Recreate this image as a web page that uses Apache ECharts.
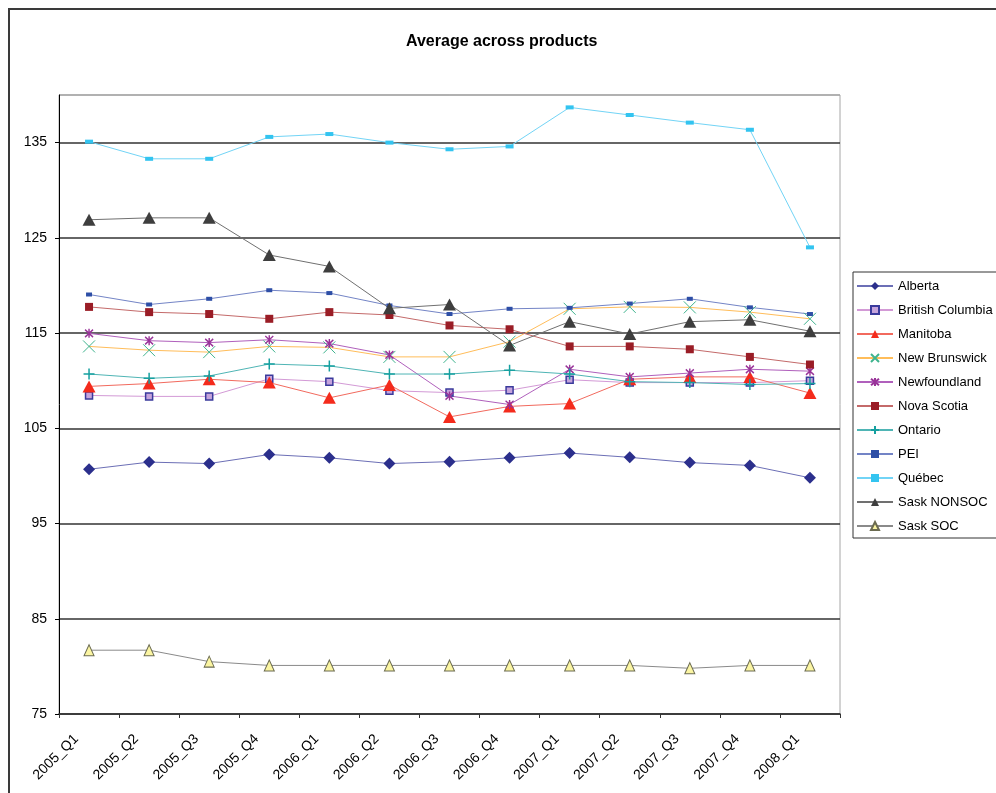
<!DOCTYPE html>
<html>
<head>
<meta charset="utf-8">
<title>Average across products</title>
<script src="https://cdn.jsdelivr.net/npm/echarts@6/dist/echarts.min.js"></script>
<style>
  html, body { margin: 0; padding: 0; background: #fff; }
  #chart { width: 996px; height: 793px; }
</style>
</head>
<body>
<div id="chart"></div>
<script>
// Quarterly averages by province
const quarters = ['2005_Q1', '2005_Q2', '2005_Q3', '2005_Q4', '2006_Q1', '2006_Q2', '2006_Q3',
  '2006_Q4', '2007_Q1', '2007_Q2', '2007_Q3', '2007_Q4', '2008_Q1'];

const alberta        = [100.7, 101.45, 101.3, 102.25, 101.9, 101.3, 101.5, 101.9, 102.4, 101.95, 101.4, 101.1, 99.8];
const britishColumbia = [108.45, 108.35, 108.35, 110.2, 109.9, 108.95, 108.75, 109.0, 110.1, 109.8, 109.8, 109.8, 110.0];
const manitoba       = [109.4, 109.7, 110.15, 109.8, 108.2, 109.55, 106.2, 107.3, 107.6, 110.15, 110.4, 110.4, 108.7];
const newBrunswick   = [113.6, 113.2, 113.0, 113.6, 113.5, 112.5, 112.5, 114.1, 117.55, 117.75, 117.7, 117.2, 116.5];
const newfoundland   = [114.97, 114.2, 114.0, 114.3, 113.9, 112.7, 108.4, 107.5, 111.2, 110.4, 110.8, 111.2, 111.0];
const novaScotia     = [117.75, 117.2, 117.0, 116.5, 117.2, 116.9, 115.8, 115.4, 113.6, 113.6, 113.3, 112.5, 111.7];
const ontario        = [110.7, 110.25, 110.5, 111.75, 111.55, 110.7, 110.7, 111.1, 110.7, 109.9, 109.8, 109.6, 109.7];
const pei            = [119.05, 118.0, 118.6, 119.5, 119.2, 117.9, 117.0, 117.55, 117.65, 118.1, 118.6, 117.7, 117.0];
const quebec         = [135.1, 133.3, 133.3, 135.6, 135.9, 135.0, 134.3, 134.6, 138.7, 137.9, 137.1, 136.35, 124.0];
const saskNonsoc     = [126.9, 127.1, 127.1, 123.2, 122.0, 117.6, 118.0, 113.7, 116.2, 114.9, 116.2, 116.4, 115.2];
const saskSoc        = [81.7, 81.7, 80.5, 80.1, 80.1, 80.1, 80.1, 80.1, 80.1, 80.1, 79.8, 80.1, 80.1];

const yTicks = { min: 75, max: 140, step: 10 };

const FONT = '"Liberation Sans", Arial, sans-serif';
const X_MARK = 'path://M0,0L10,10M10,0L0,10';
const STAR_MARK = 'path://M0,0L10,10M10,0L0,10M5,-1L5,11';
const PLUS_MARK = 'path://M5,0L5,10M0,5L10,5';

function line(name, data, lineColor, symbol, size, itemStyle) {
  return {
    name: name,
    type: 'line',
    data: data,
    symbol: symbol,
    symbolSize: size,
    showAllSymbol: true,
    animation: false,
    lineStyle: { color: lineColor, width: 1 },
    itemStyle: itemStyle,
    emphasis: { disabled: true }
  };
}

const series = [
  line('Alberta', alberta, '#6c6fb6', 'diamond', [12, 12], { color: '#2b2f8c' }),
  line('British Columbia', britishColumbia, '#d39ad6', 'rect', [7, 7],
    { color: '#c6a4dc', borderColor: '#3a3a9c', borderWidth: 1.5 }),
  line('Manitoba', manitoba, '#f26a5e', 'triangle', [13, 12], { color: '#f42b1c' }),
  line('New Brunswick', newBrunswick, '#ffbd5a', X_MARK, [12, 12],
    { color: '#3fb48e', borderColor: '#3fb48e', borderWidth: 1 }),
  line('Newfoundland', newfoundland, '#b060bc', STAR_MARK, [8, 9],
    { color: '#993399', borderColor: '#993399', borderWidth: 1.5 }),
  line('Nova Scotia', novaScotia, '#c46a6a', 'rect', [8, 8], { color: '#9a1d26' }),
  line('Ontario', ontario, '#4fb5b5', PLUS_MARK, [11, 11],
    { color: '#16a0a0', borderColor: '#16a0a0', borderWidth: 1.5 }),
  line('PEI', pei, '#7384c6', 'rect', [6, 4], { color: '#2d4ea6' }),
  line('Québec', quebec, '#72d4f6', 'rect', [8, 4], { color: '#33c4f0' }),
  line('Sask NONSOC', saskNonsoc, '#707070', 'triangle', [13, 12], { color: '#3e3e3e' }),
  line('Sask SOC', saskSoc, '#8a8a8a', 'triangle', [10, 11],
    { color: '#fbf5a2', borderColor: '#6b6b50', borderWidth: 1 })
];

const chart = echarts.init(document.getElementById('chart'), null, { renderer: 'canvas' });

const gridLineColors = [];
for (let v = yTicks.min; v < yTicks.max; v += yTicks.step) gridLineColors.push('#333');
gridLineColors.push('#a6a6a6');

chart.setOption({
  animation: false,
  backgroundColor: '#fff',
  textStyle: { fontFamily: FONT },
  title: {
    text: 'Average across products',
    left: 401,
    top: 29,
    textStyle: { fontFamily: FONT, fontSize: 16, fontWeight: 'bold', color: '#000' }
  },
  graphic: [{
    type: 'rect',
    silent: true,
    shape: { x: 9, y: 9, width: 1200, height: 1000 },
    style: { fill: 'none', stroke: '#3a3a3a', lineWidth: 2 }
  }],
  legend: {
    orient: 'vertical',
    left: 853,
    top: 272,
    padding: [7, 4, 5, 3],
    itemGap: 10,
    itemWidth: 36,
    itemHeight: 10,
    borderColor: '#333',
    borderWidth: 1,
    backgroundColor: '#fff',
    selectedMode: false,
    textStyle: { fontFamily: FONT, fontSize: 13, color: '#000', lineHeight: 14 },
    data: series.map(s => s.name)
  },
  grid: {
    left: 59, top: 95, right: 156, bottom: 79,
    show: true, borderColor: '#a6a6a6', borderWidth: 1,
    containLabel: false
  },
  xAxis: {
    type: 'category',
    data: quarters,
    boundaryGap: true,
    axisLine: { lineStyle: { color: '#333', width: 1.5 } },
    axisTick: { show: true, length: 4, lineStyle: { color: '#333' } },
    axisLabel: {
      rotate: 45, fontSize: 14, color: '#000', fontFamily: FONT,
      margin: 10, padding: [0, 18, 0, 0], interval: 0
    },
    splitLine: { show: false }
  },
  yAxis: {
    type: 'value',
    min: yTicks.min,
    max: yTicks.max,
    interval: yTicks.step,
    axisLine: { show: true, lineStyle: { color: '#000', width: 1 } },
    axisTick: { show: true, length: 4, lineStyle: { color: '#000' } },
    axisLabel: { fontSize: 14, color: '#000', fontFamily: FONT, margin: 12, showMaxLabel: false },
    splitLine: { show: true, lineStyle: { color: gridLineColors, width: 1.5 } }
  },
  series: series
});
</script>
</body>
</html>
